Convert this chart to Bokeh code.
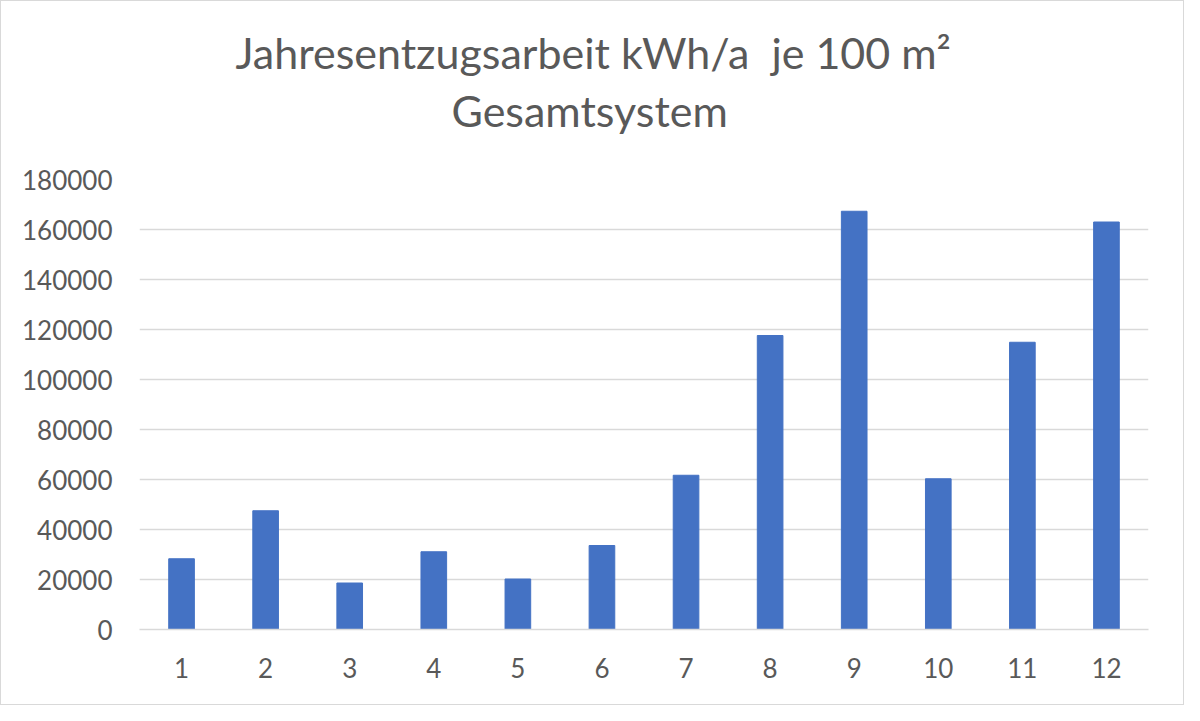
from bokeh.plotting import figure
from bokeh.models import Range1d, SingleIntervalTicker, Title
from bokeh.embed import file_html
from bokeh.resources import INLINE

# Jahresentzugsarbeit je Variante
varianten = ["1", "2", "3", "4", "5", "6", "7", "8", "9", "10", "11", "12"]
arbeit = [28300, 47500, 18600, 31100, 20200, 33600, 61700, 117600, 167300, 60300, 114900, 163000]

titel_zeilen = ["Jahresentzugsarbeit kWh/a\u00a0 je 100 m²", "Gesamtsystem"]

FONT = "Lato"
GRAU = "#595959"
LINIE = "#d9d9d9"
BLAU = "#4472c4"

p = figure(x_range=varianten, width=1184, height=705,
           output_backend="svg", toolbar_location=None,
           min_border_left=138, min_border_right=37,
           min_border_top=178, min_border_bottom=77)
p.y_range = Range1d(0, 180000)

p.vbar(x=varianten, top=arbeit, width=0.305, color=BLAU)

# zweite Zeile zuerst (liegt naeher am Diagramm)
t2 = Title(text=titel_zeilen[1], align="left", offset=312, standoff=87,
           text_font=FONT, text_font_size="43px", text_font_style="normal",
           text_color=GRAU)
t1 = Title(text=titel_zeilen[0], align="left", offset=96, standoff=-77,
           text_font=FONT, text_font_size="43px", text_font_style="normal",
           text_color=GRAU)
p.add_layout(t2, "above")
p.add_layout(t1, "above")

p.outline_line_color = None
p.background_fill_color = "white"
p.border_fill_color = "white"
p.styles = {"border": "1.5px solid #d9d9d9", "box-sizing": "border-box"}

p.xgrid.grid_line_color = None
p.ygrid.grid_line_color = LINIE
p.ygrid.grid_line_width = 1.5

p.yaxis.ticker = SingleIntervalTicker(interval=20000)
p.yaxis.formatter.use_scientific = False
p.yaxis.axis_line_color = None
p.yaxis.major_tick_line_color = None
p.yaxis.minor_tick_line_color = None
p.yaxis.major_tick_out = 0
p.yaxis.major_tick_in = 0
p.yaxis.minor_tick_out = 0
p.yaxis.major_label_standoff = 27

p.xaxis.axis_line_color = LINIE
p.xaxis.axis_line_width = 1.5
p.xaxis.major_tick_line_color = None
p.xaxis.major_tick_out = 0
p.xaxis.major_tick_in = 0
p.xaxis.major_label_standoff = 28

for ax in (p.xaxis, p.yaxis):
    ax.major_label_text_font = FONT
    ax.major_label_text_font_size = "26px"
    ax.major_label_text_color = GRAU

open("out.html", "w").write(file_html(p, INLINE))
